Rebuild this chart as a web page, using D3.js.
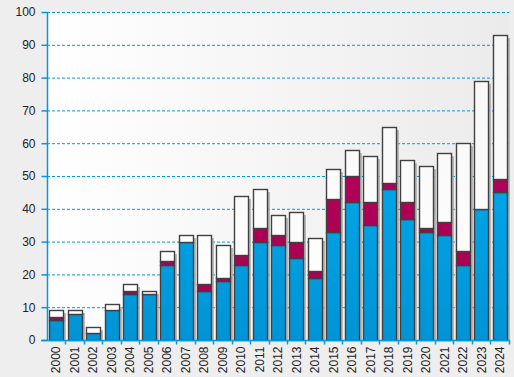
<!DOCTYPE html>
<html><head><meta charset="utf-8">
<script src="https://cdn.jsdelivr.net/npm/d3@7/dist/d3.min.js"></script>
<style>
html,body{margin:0;padding:0;background:#eeeeee;}
svg{display:block;}
text{font-family:"Liberation Sans",Arial,sans-serif;font-size:12px;fill:#222;}
</style></head>
<body>
<svg id="c" width="514" height="377"></svg>
<script>
const years = ["2000","2001","2002","2003","2004","2005","2006","2007","2008","2009","2010","2011","2012","2013","2014","2015","2016","2017","2018","2019","2020","2021","2022","2023","2024"];
const blueValues = [6,8,2,9,14,14,23,30,15,18,23,30,29,25,19,33,42,35,46,37,33,32,23,40,45];
const redValues  = [1,0,0,0,1,0,1,0,2,1,3,4,3,5,2,10,8,7,2,5,1,4,4,0,4];
const whiteValues= [2,1,2,2,2,1,3,2,15,10,18,12,6,9,10,9,8,14,17,13,19,21,33,39,44];
const yTicks = [0,10,20,30,40,50,60,70,80,90,100];

const svg = d3.select("#c");
const L = 47, R = 509, T = 12, B = 340;
const x = d3.scaleBand().domain(years).range([L, 508.5]).paddingInner(0.27).paddingOuter(0.11);
const y = d3.scaleLinear().domain([0,100]).range([B, T]);

const defs = svg.append("defs");
const bg = defs.append("linearGradient").attr("id","bg").attr("x1","0").attr("x2","1").attr("y1","0").attr("y2","0");
bg.append("stop").attr("offset","0").attr("stop-color","#ffffff");
bg.append("stop").attr("offset","1").attr("stop-color","#ebebeb");
function vgrad(id, top, bot){
  const g = defs.append("linearGradient").attr("id",id).attr("gradientUnits","userSpaceOnUse")
    .attr("x1",0).attr("x2",0).attr("y1",T).attr("y2",B);
  g.append("stop").attr("offset","0").attr("stop-color",top);
  g.append("stop").attr("offset","1").attr("stop-color",bot);
}
vgrad("gBlue","#00b8fa","#0094d6");
vgrad("gRed","#c00062","#a4004f");
vgrad("gWhite","#f6f6f6","#ffffff");

svg.append("rect").attr("x",L).attr("y",T).attr("width",R-L).attr("height",B-T).attr("fill","url(#bg)");

// grid
svg.append("g").selectAll("line").data(yTicks.filter(d=>d>0)).join("line")
  .attr("x1",L).attr("x2",R).attr("y1",d=>y(d)+0.5).attr("y2",d=>y(d)+0.5)
  .attr("stroke","#0099dd").attr("stroke-width",1).attr("stroke-dasharray","3,2");

// stacked data
const stackData = years.map((yr,i)=>({year:yr, blue:blueValues[i], red:redValues[i], white:whiteValues[i]}));
const series = d3.stack().keys(["blue","red","white"])(stackData);
const fills = {blue:"url(#gBlue)", red:"url(#gRed)", white:"url(#gWhite)"};
const bw = Math.round(x.bandwidth());

// shadows
svg.append("g").selectAll("rect").data(stackData).join("rect")
  .attr("x",d=>Math.round(x(d.year))+3).attr("y",d=>Math.round(y(d.blue+d.red+d.white))+3)
  .attr("width",bw)
  .attr("height",d=>B-Math.round(y(d.blue+d.red+d.white))-3)
  .attr("fill","#a9a9a9").attr("opacity",0.8);

const gBars = svg.append("g");
series.forEach(s=>{
  gBars.append("g").selectAll("rect").data(s.filter(d=>d[1]-d[0]>0)).join("rect")
    .attr("x",d=>Math.round(x(d.data.year))+0.5)
    .attr("y",d=>Math.round(y(d[1]))+0.5)
    .attr("width",bw)
    .attr("height",d=>Math.round(y(d[0]))-Math.round(y(d[1])))
    .attr("fill",fills[s.key]).attr("stroke","#404040").attr("stroke-width",1.4);
});

// y axis
const ya = svg.append("g").attr("transform",`translate(${L+0.5},0)`)
  .call(d3.axisLeft(y).tickValues(yTicks).tickSize(6).tickPadding(6));
ya.select(".domain").attr("stroke","#0099dd").attr("stroke-width",1.5).attr("d",`M0,${B}V${T}`);
ya.selectAll(".tick line").attr("stroke","#0099dd").attr("stroke-width",1.5);
ya.selectAll("text").style("font-size","12px").attr("fill","#222");

// x axis
const xa = svg.append("g").attr("transform",`translate(0,${B+0.5})`);
xa.append("line").attr("x1",L-6).attr("x2",R+1).attr("y1",0).attr("y2",0).attr("stroke","#0099dd").attr("stroke-width",1.5);
const gap = (x.step()-x.bandwidth())/2;
xa.selectAll("line.tk").data(years.slice(1)).join("line").attr("class","tk")
  .attr("x1",d=>Math.round(x(d)-gap)+0.5).attr("x2",d=>Math.round(x(d)-gap)+0.5)
  .attr("y1",0).attr("y2",4).attr("stroke","#0099dd").attr("stroke-width",1.5);
xa.append("line").attr("x1",R+0.5).attr("x2",R+0.5).attr("y1",0).attr("y2",4).attr("stroke","#0099dd").attr("stroke-width",1.5);
xa.selectAll("text").data(years).join("text")
  .attr("transform",d=>`translate(${x(d)+x.bandwidth()/2+4.5},6) rotate(-90)`)
  .attr("text-anchor","end").text(d=>d);
</script>
</body></html>
